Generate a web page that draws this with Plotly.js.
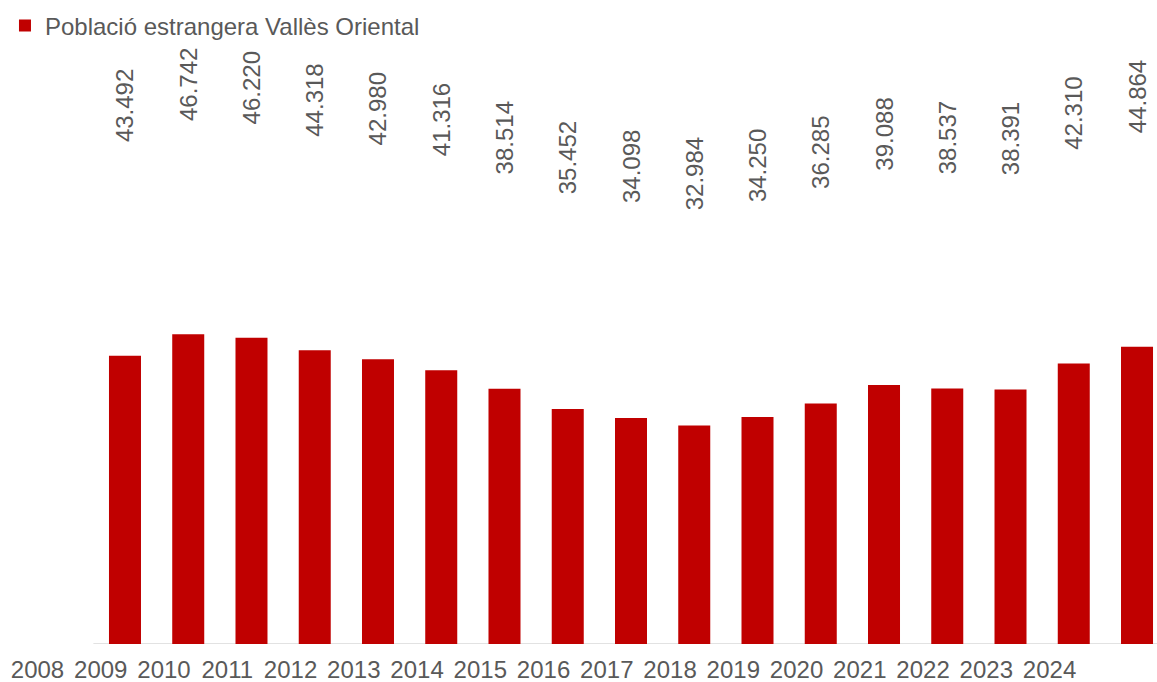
<!DOCTYPE html>
<html>
<head>
<meta charset="utf-8">
<script src="https://cdn.plot.ly/plotly-3.0.1.min.js"></script>
<style>
html, body { margin: 0; padding: 0; background: #ffffff; }
#chart { width: 1157px; height: 682px; }
</style>
</head>
<body>
<div id="chart"></div>
<script>
// Data
const years = ["2008","2009","2010","2011","2012","2013","2014","2015","2016",
               "2017","2018","2019","2020","2021","2022","2023","2024"];
const foreignPopulation = [43492, 46742, 46220, 44318, 42980, 41316, 38514, 35452, 34098,
                           32984, 34250, 36285, 39088, 38537, 38391, 42310, 44864];
const seriesName = "Població estrangera Vallès Oriental";

const FONT = '"Liberation Sans", Arial, sans-serif';
const TEXT_COLOR = '#595959';
const BAR_COLOR = '#C00000';

// category slots 0..n-1 on a linear axis
const slots = years.map((_, i) => i);
// in the source chart the year labels sit shifted left of their bars
const LABEL_SHIFT = 1.383;
const tickSlots = slots.map(i => i - LABEL_SHIFT);

const barTrace = {
  type: 'bar',
  x: slots,
  y: foreignPopulation,
  customdata: years,
  name: seriesName,
  marker: { color: BAR_COLOR },
  hovertemplate: '%{customdata}: %{y:,.0f}<extra></extra>',
  showlegend: true
};

// Data labels (drawn at the top of the chart, on their own scale)
const labelTrace = {
  type: 'bar',
  x: slots,
  y: foreignPopulation,
  yaxis: 'y2',
  marker: { color: 'rgba(0,0,0,0)' },
  texttemplate: '%{y:,.0f}',
  textposition: 'outside',
  textangle: -90,
  cliponaxis: false,
  constraintext: 'none',
  outsidetextfont: { family: FONT, size: 24, color: TEXT_COLOR },
  hoverinfo: 'skip',
  showlegend: false
};

const layout = {
  width: 1157,
  height: 682,
  margin: { l: 0, r: 0, t: 40, b: 38, autoexpand: false },
  paper_bgcolor: '#ffffff',
  plot_bgcolor: '#ffffff',
  separators: ',.',
  barmode: 'overlay',
  bargap: 0.494,
  font: { family: FONT, size: 24, color: TEXT_COLOR },
  showlegend: true,
  legend: {
    x: 0.0043, y: 1.0232,
    xanchor: 'left', yanchor: 'middle',
    orientation: 'h',
    font: { family: FONT, size: 24, color: TEXT_COLOR },
    bgcolor: 'rgba(0,0,0,0)',
    borderwidth: 0,
    itemwidth: 30
  },
  xaxis: {
    type: 'linear',
    range: [-1.976, 16.316],
    showline: false,
    showgrid: false,
    zeroline: false,
    ticks: '',
    tickangle: 0,
    tickmode: 'array',
    tickvals: tickSlots,
    ticktext: years,
    tickfont: { family: FONT, size: 24, color: TEXT_COLOR },
    ticklabelstandoff: 9,
    automargin: false,
    fixedrange: true
  },
  yaxis: {
    range: [0, 91128],
    visible: false,
    showgrid: false,
    zeroline: false,
    automargin: false,
    fixedrange: true
  },
  yaxis2: {
    overlaying: 'y',
    range: [-33369, 59683],
    visible: false,
    showgrid: false,
    zeroline: false,
    automargin: false,
    fixedrange: true
  },
  shapes: [{
    type: 'line', layer: 'below',
    xref: 'x', yref: 'y',
    x0: slots[0] - 0.5, x1: slots[slots.length - 1] + 0.5,
    y0: 0, y1: 0,
    line: { color: '#d9d9d9', width: 1.3 }
  }]
};

Plotly.newPlot('chart', [barTrace, labelTrace], layout, { displayModeBar: false, staticPlot: true });
</script>
</body>
</html>
